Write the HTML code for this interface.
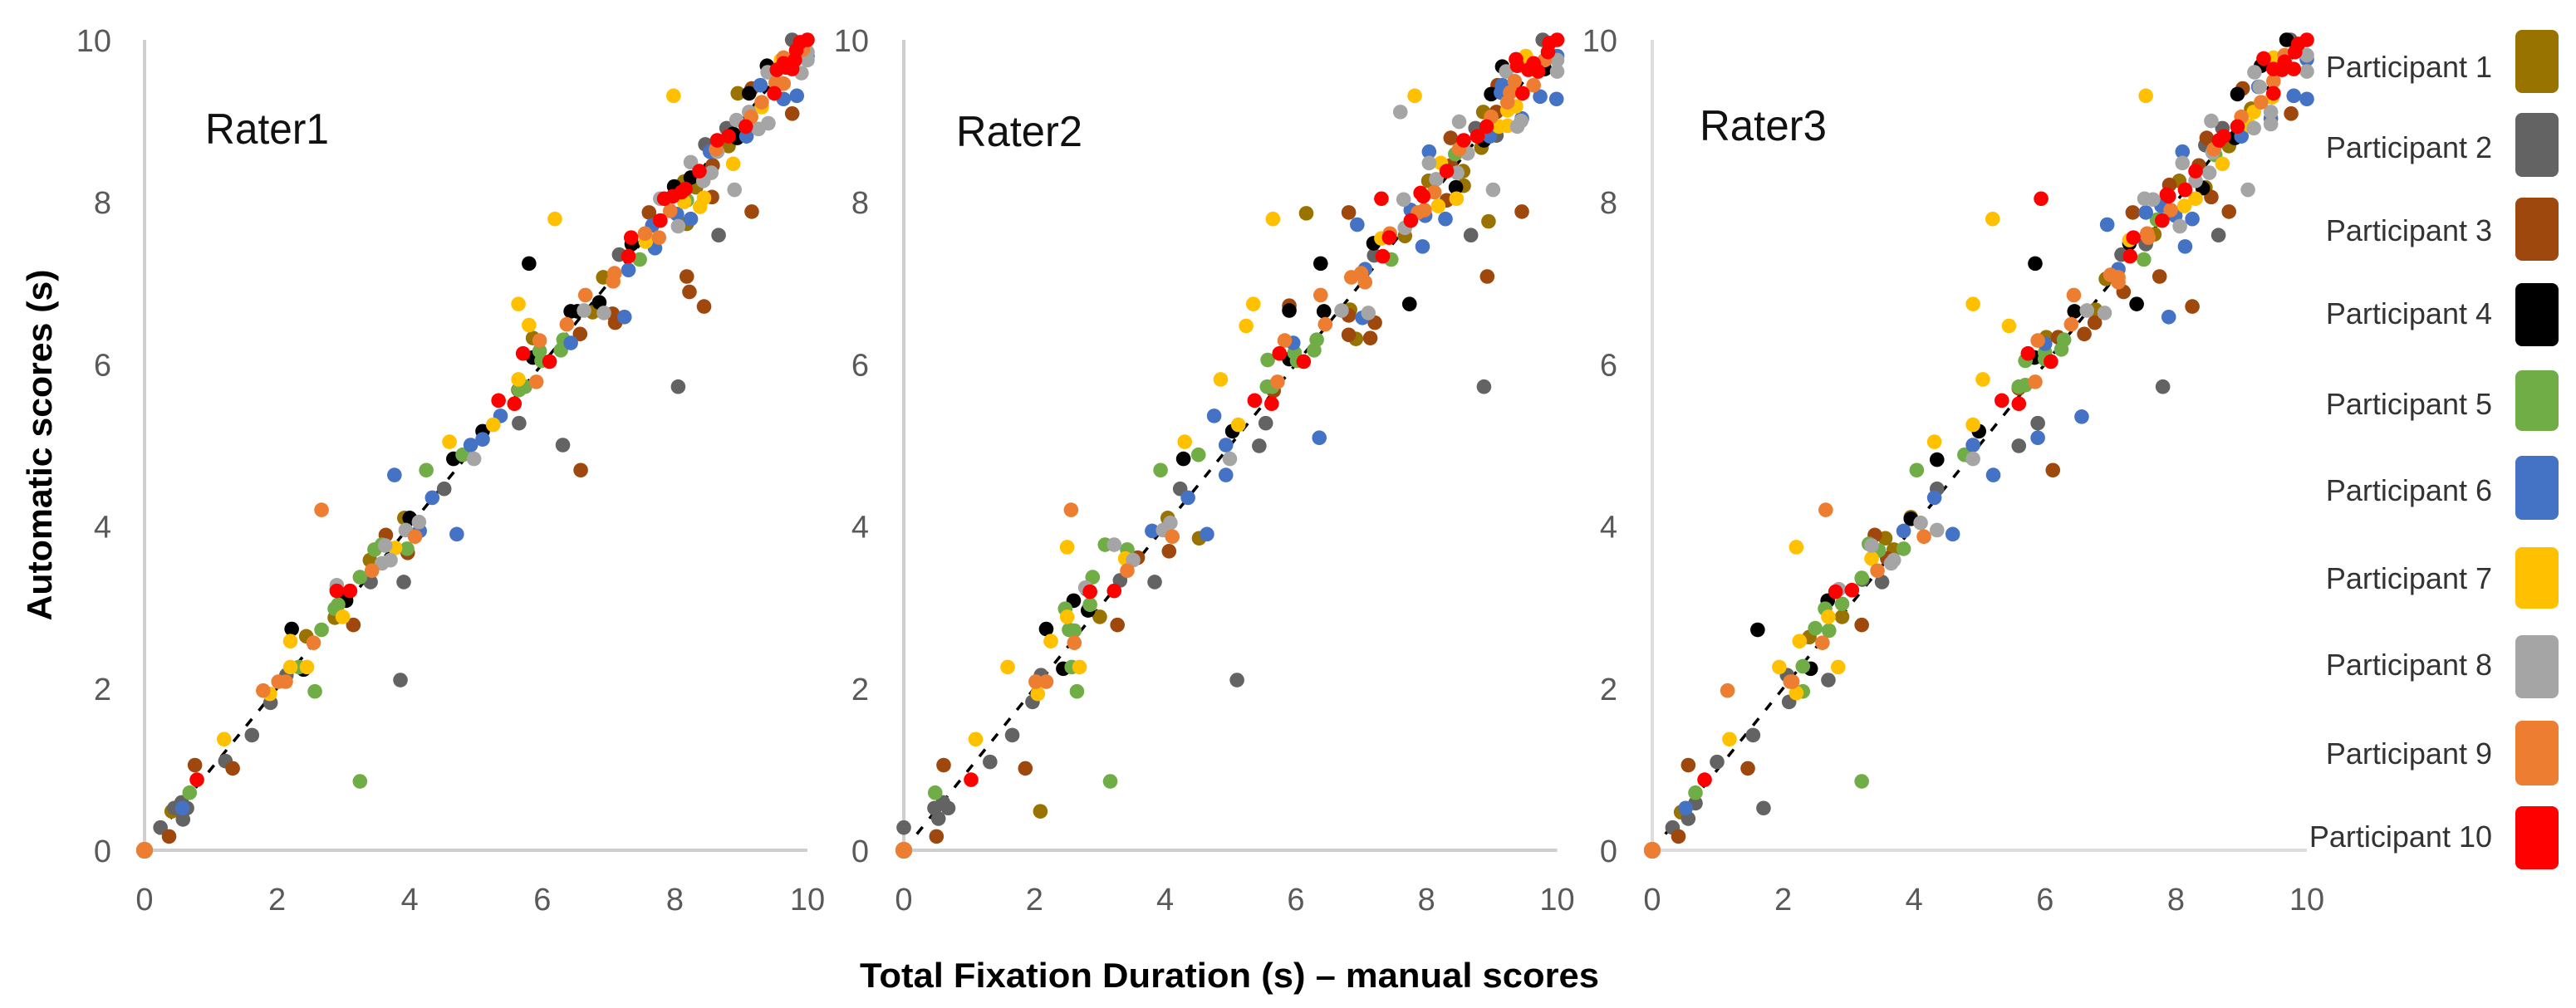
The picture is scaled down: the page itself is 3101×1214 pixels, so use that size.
<!DOCTYPE html>
<html lang="en">
<head>
<meta charset="utf-8">
<title>Automatic vs manual total fixation duration</title>
<style>
html,body{margin:0;padding:0;background:#fff;width:3101px;height:1214px;overflow:hidden}
svg{display:block}
text{font-family:"Liberation Sans",sans-serif}
</style>
</head>
<body>
<svg id="chart" xmlns="http://www.w3.org/2000/svg" width="3101" height="1214" viewBox="0 0 3101 1214">
  <g id="panels"></g>
  <text transform="translate(62,536) rotate(-90)" text-anchor="middle" font-size="42" font-weight="bold" fill="#000" textLength="423" lengthAdjust="spacingAndGlyphs">Automatic scores (s)</text>
  <text x="1480" y="1189" text-anchor="middle" font-size="42" font-weight="bold" fill="#000" textLength="890" lengthAdjust="spacingAndGlyphs">Total Fixation Duration (s) – manual scores</text>
  <text x="247" y="173" font-size="52" fill="#111" textLength="149" lengthAdjust="spacingAndGlyphs">Rater1</text>
  <text x="1151" y="176" font-size="52" fill="#111" textLength="152" lengthAdjust="spacingAndGlyphs">Rater2</text>
  <text x="2046" y="169" font-size="52" fill="#111" textLength="153" lengthAdjust="spacingAndGlyphs">Rater3</text>
  <g font-size="36" fill="#333" text-anchor="end">
    <text x="3000" y="93">Participant 1</text>
    <rect x="3028" y="36" width="52" height="76" rx="8" fill="#997300"/>
    <text x="3000" y="190">Participant 2</text>
    <rect x="3028" y="136" width="52" height="77" rx="8" fill="#636363"/>
    <text x="3000" y="290">Participant 3</text>
    <rect x="3028" y="238" width="52" height="76" rx="8" fill="#9E480E"/>
    <text x="3000" y="390">Participant 4</text>
    <rect x="3028" y="341" width="52" height="76" rx="8" fill="#000000"/>
    <text x="3000" y="499">Participant 5</text>
    <rect x="3028" y="446" width="52" height="73" rx="8" fill="#70AD47"/>
    <text x="3000" y="603">Participant 6</text>
    <rect x="3028" y="549" width="52" height="77" rx="8" fill="#4472C4"/>
    <text x="3000" y="709">Participant 7</text>
    <rect x="3028" y="659" width="52" height="74" rx="8" fill="#FFC000"/>
    <text x="3000" y="813">Participant 8</text>
    <rect x="3028" y="765" width="52" height="76" rx="8" fill="#A5A5A5"/>
    <text x="3000" y="920">Participant 9</text>
    <rect x="3028" y="868" width="52" height="78" rx="8" fill="#ED7D31"/>
    <text x="3000" y="1020">Participant 10</text>
    <rect x="3028" y="971" width="52" height="76" rx="8" fill="#FF0000"/>
  </g>
</svg>
<script>
const tickValues = [0, 2, 4, 6, 8, 10];
const trendLine = [[0.2, 0.2], [10, 10]];

const rater1Series = [
 [[0,0],[.41,.48],[2.44,2.64],[2.87,2.87],[3.40,3.58],[3.92,4.10],[5.86,6.32],[6.76,6.64],[6.92,7.07],[8.14,8.25],[8.18,7.73],[8.32,8.18],[8.81,8.69],[8.95,9.34]],
 [[0,0],[.24,.28],[.58,.38],[.45,.52],[.64,.52],[.56,.59],[1.22,1.10],[1.62,1.42],[1.90,1.82],[2.14,2.16],[3.86,2.10],[3.41,3.31],[3.91,3.31],[2.90,3.22],[4.52,4.46],[5.65,5.27],[6.31,5.0],[8.05,5.72],[8.66,7.59],[7.16,7.35],[8.46,8.71],[8.78,8.91],[9.77,10]],
 [[0,0],[.37,.17],[.76,1.05],[1.33,1.01],[3.15,2.78],[3.64,3.89],[3.97,3.67],[5.64,5.68],[6.58,4.69],[6.57,6.37],[7.06,6.62],[7.10,6.51],[7.61,7.87],[8.18,7.08],[8.22,6.89],[8.44,6.71],[8.56,8.06],[8.57,8.45],[9.16,7.88],[9.77,9.09],[9.16,9.4]],
 [[0,0],[2.22,2.73],[3.04,3.08],[4.0,4.10],[4.66,4.83],[5.10,5.17],[2.40,2.23],[5.80,7.24],[5.86,6.08],[6.43,6.65],[6.53,6.65],[6.86,6.76],[7.35,7.48],[7.99,8.19],[8.24,8.30],[8.94,8.79],[8.88,8.84],[9.12,9.34],[9.39,9.68]],
 [[0,0],[.68,.71],[3.25,.85],[2.57,1.96],[2.33,2.26],[2.67,2.72],[3.25,3.37],[2.87,2.98],[2.92,3.03],[3.47,3.71],[3.58,3.77],[3.96,3.72],[4.25,4.69],[4.80,4.88],[5.65,5.68],[5.74,5.72],[5.96,6.16],[5.99,6.04],[6.28,6.17],[6.32,6.30],[7.47,7.29],[8.18,8.02]],
 [[0,0],[.57,.52],[4.71,3.90],[3.77,4.63],[4.34,4.35],[4.15,3.94],[4.92,5.0],[5.10,5.07],[5.37,5.36],[6.43,6.26],[7.24,6.58],[7.30,7.16],[7.70,7.43],[7.66,7.71],[8.03,7.85],[8.24,7.79],[8.53,8.62],[9.08,8.81],[9.64,9.27],[9.84,9.31],[9.29,9.44],[10,9.8]],
 [[0,0],[1.20,1.37],[1.89,1.93],[2.20,2.26],[2.45,2.26],[2.20,2.58],[2.99,2.88],[3.78,3.73],[4.60,5.04],[5.26,5.25],[5.64,5.81],[5.64,6.74],[5.80,6.48],[6.19,7.79],[7.56,7.51],[7.98,9.31],[8.14,8.0],[8.38,7.94],[8.44,8.05],[8.88,8.47],[9.31,9.17],[9.6,9.75]],
 [[0,0],[2.90,3.27],[3.63,3.76],[3.71,3.58],[3.58,3.54],[3.94,3.95],[4.14,4.05],[4.97,4.83],[6.63,6.66],[6.93,6.63],[7.78,8.04],[8.05,7.70],[8.24,8.49],[8.43,8.26],[8.55,8.36],[8.64,8.62],[8.90,8.15],[8.93,9.01],[9.12,9.11],[9.26,8.9],[9.41,8.97],[9.4,9.6],[9.91,9.59],[10,9.75],[10,9.85]],
 [[0,0],[1.79,1.97],[2.02,2.08],[2.13,2.08],[2.55,2.56],[3.43,3.45],[4.08,3.87],[2.67,4.20],[5.91,5.78],[5.96,6.29],[6.37,6.49],[6.65,6.85],[7.09,7.12],[7.07,7.02],[7.55,7.61],[7.76,7.56],[7.93,7.89],[8.62,8.65],[9.15,9.05],[9.31,9.23],[9.52,9.47],[9.64,9.46],[9.64,9.78],[9.93,9.88]],
 [[.79,.87],[2.90,3.20],[3.10,3.20],[5.34,5.55],[5.58,5.51],[5.71,6.13],[6.11,6.03],[7.30,7.33],[7.34,7.56],[7.78,7.77],[7.84,8.04],[7.97,8.07],[8.1,8.12],[8.16,8.16],[8.37,8.38],[8.64,8.76],[8.81,8.81],[9.07,8.93],[9.50,9.34],[9.54,9.63],[9.64,9.71],[9.77,9.64],[9.81,9.75],[9.83,9.87],[9.89,9.97],[10,10],[9.68,9.66]]
];

const rater2Series = [
 [[0,0],[2.09,.48],[3.0,2.88],[4.04,4.10],[4.52,3.85],[6.16,7.86],[6.92,6.31],[6.83,6.67],[7.67,7.58],[8.03,8.26],[8.57,8.2],[8.56,8.38],[8.84,8.67],[8.87,9.11],[8.95,7.76]],
 [[0,0],[0,.28],[.53,.39],[.47,.52],[.68,.52],[.60,.59],[1.32,1.09],[1.66,1.42],[1.97,1.83],[2.10,2.16],[5.10,2.10],[3.31,3.33],[3.84,3.31],[2.80,3.22],[4.23,4.46],[5.44,4.99],[5.54,5.27],[8.88,5.72],[8.68,7.59],[7.2,7.34],[8.75,8.91],[9.07,8.82],[9.78,10]],
 [[0,0],[.50,.17],[.61,1.05],[1.86,1.01],[3.27,2.78],[3.58,3.61],[4.06,3.69],[5.66,5.67],[5.9,6.72],[6.81,7.87],[6.81,6.36],[6.81,6.6],[7.14,6.32],[7.21,6.51],[8.31,8.02],[8.37,8.45],[8.37,8.79],[8.93,7.08],[9.46,7.88],[9.07,9.11],[9.09,9.44]],
 [[0,0],[2.18,2.73],[2.60,3.08],[2.82,2.96],[2.44,2.24],[4.28,4.83],[5.03,5.17],[5.9,6.06],[5.90,6.66],[6.38,7.24],[6.43,6.65],[7.74,6.74],[7.19,7.49],[8.45,8.18],[8.88,8.76],[8.99,9.33],[9.16,9.67],[9.81,9.64]],
 [[0,0],[.48,.71],[3.16,.85],[2.65,1.96],[2.57,2.26],[2.53,2.72],[2.61,2.71],[2.47,2.98],[2.85,3.03],[2.89,3.37],[3.08,3.77],[3.42,3.71],[3.93,4.69],[4.51,4.88],[5.56,5.72],[5.64,5.72],[5.57,6.05],[5.98,6.14],[6.02,6.04],[6.28,6.17],[6.32,6.30],[7.46,7.29],[8.44,8.59]],
 [[0,0],[3.80,3.94],[4.64,3.90],[4.35,4.35],[4.93,5.0],[4.93,4.63],[4.75,5.36],[5.96,6.26],[6.36,5.09],[6.94,7.72],[7.02,6.57],[7.06,7.17],[7.76,7.9],[7.94,7.45],[7.98,7.83],[8.04,8.62],[8.29,7.79],[8.97,8.81],[9.14,9.35],[9.16,9.44],[9.46,9.03],[9.74,9.30],[9.99,9.27],[10,9.8]],
 [[0,0],[1.10,1.37],[1.59,2.26],[2.05,1.93],[2.69,2.26],[2.25,2.58],[2.50,2.88],[2.50,3.74],[3.39,3.60],[4.30,5.04],[5.12,5.25],[4.85,5.81],[5.24,6.47],[5.35,6.74],[5.65,7.79],[7.31,7.55],[7.82,9.31],[8.18,7.95],[8.22,8.48],[8.46,8.04],[9.11,8.93],[9.24,8.94],[9.24,9.13],[9.37,9.18],[9.52,9.80]],
 [[0,0],[2.78,3.24],[3.22,3.77],[3.51,3.58],[3.97,3.95],[4.08,4.04],[4.99,4.83],[6.70,6.66],[7.11,6.63],[7.6,9.11],[7.65,8.03],[7.67,7.68],[8.04,8.48],[8.15,8.28],[8.47,8.36],[8.5,8.99],[8.63,8.6],[9.02,8.15],[9.22,9.61],[9.39,8.93],[9.45,9.0],[10,9.61],[10,9.75]],
 [[0,0],[2.02,2.08],[2.18,2.08],[2.61,2.56],[3.42,3.45],[4.11,3.87],[2.56,4.20],[5.72,5.78],[5.83,6.29],[6.38,6.85],[6.45,6.49],[6.85,7.07],[7.0,7.12],[7.06,7.01],[7.44,7.61],[7.87,7.87],[7.97,7.9],[8.12,8.12],[8.5,8.65],[8.99,9.05],[9.24,9.23],[9.28,9.35],[9.35,9.49],[9.64,9.44],[9.81,9.75]],
 [[1.03,.87],[2.85,3.19],[3.22,3.20],[5.37,5.55],[5.63,5.51],[5.75,6.13],[6.12,6.03],[7.31,8.04],[7.33,7.33],[7.43,7.56],[7.76,7.77],[7.91,8.11],[7.95,8.07],[8.31,8.38],[8.57,8.76],[8.78,8.81],[8.92,8.93],[9.47,9.34],[9.37,9.76],[9.39,9.68],[9.56,9.63],[9.64,9.71],[9.71,9.61],[9.86,9.85],[9.88,9.96],[10,10]]
];

const rater3Series = [
 [[0,0],[.44,.47],[2.40,2.63],[2.90,2.88],[3.56,3.85],[3.69,3.71],[3.95,4.11],[6.02,6.33],[6.77,6.67],[6.93,7.05],[7.67,7.6],[8.05,8.26],[8.45,8.18],[8.81,8.69],[9.15,9.15]],
 [[0,0],[.31,.28],[.55,.39],[.66,.58],[1.70,.52],[.99,1.09],[1.54,1.42],[2.09,1.83],[2.06,2.16],[2.69,2.10],[3.51,3.31],[3.21,3.34],[4.35,4.46],[5.6,4.99],[5.89,5.27],[7.80,5.72],[8.65,7.59],[7.17,7.35],[7.54,7.48],[8.45,8.7],[8.71,8.91],[9.75,10]],
 [[0,0],[.40,.17],[.55,1.05],[1.46,1.01],[3.2,2.78],[3.40,3.89],[3.59,3.6],[5.6,5.7],[6.12,4.69],[6.2,6.33],[6.6,6.37],[6.76,6.51],[7.2,6.89],[7.34,7.87],[7.75,7.08],[7.9,8.21],[8.25,6.71],[8.35,8.45],[8.47,8.79],[8.54,8.06],[8.81,7.88],[9.02,9.40],[9.76,9.09]],
 [[0,0],[1.61,2.72],[2.42,2.24],[2.68,3.08],[4.35,4.82],[3.95,4.09],[4.99,5.17],[5.84,6.08],[5.85,7.24],[6.45,6.65],[7.29,7.49],[7.4,6.74],[8.41,8.17],[8.9,8.79],[8.94,9.33],[9.3,9.68],[9.69,10]],
 [[0,0],[.66,.71],[3.2,.85],[2.30,1.96],[2.30,2.27],[2.49,2.74],[2.70,2.71],[2.64,2.98],[2.90,3.04],[3.2,3.36],[3.31,3.78],[3.46,3.70],[3.84,3.72],[4.04,4.69],[4.77,4.88],[5.6,5.72],[5.7,5.74],[5.7,6.04],[6.0,6.14],[6.0,6.06],[6.25,6.18],[6.29,6.30],[7.51,7.29],[7.71,7.78],[8.6,8.58]],
 [[0,0],[.51,.52],[3.84,3.94],[4.59,3.90],[4.31,4.35],[4.90,5.0],[5.21,4.63],[5.89,5.09],[6.0,6.25],[6.56,5.35],[6.95,7.72],[7.12,7.17],[7.54,7.87],[7.78,7.95],[7.89,6.58],[7.99,7.83],[8.14,7.45],[8.1,8.62],[8.25,7.79],[9.0,8.81],[9.26,9.42],[9.45,9.03],[9.8,9.31],[10,9.27],[10,9.76]],
 [[0,0],[1.18,1.37],[1.94,2.26],[2.84,2.26],[2.20,1.94],[2.25,2.58],[2.69,2.88],[3.35,3.60],[2.20,3.74],[4.31,5.04],[4.90,6.74],[4.90,5.25],[5.05,5.81],[5.2,7.79],[5.45,6.47],[7.29,7.53],[7.54,9.31],[8.13,7.95],[8.3,8.04],[8.71,8.47],[9.13,8.94],[9.19,9.11],[9.47,9.29],[9.49,9.78]],
 [[0,0],[2.85,3.22],[3.35,3.76],[3.65,3.54],[3.69,3.58],[4.10,4.04],[4.35,3.95],[4.9,4.83],[6.64,6.66],[6.91,6.63],[7.52,8.04],[7.65,8.03],[8.06,7.70],[8.1,8.48],[8.3,8.26],[8.51,8.36],[8.54,9.0],[8.56,8.61],[9.1,8.15],[9.19,8.91],[9.2,9.6],[9.28,9.42],[9.45,9.11],[9.45,8.96],[10,9.61],[10,9.81]],
 [[0,0],[1.15,1.97],[2.11,2.08],[2.14,2.08],[2.6,2.56],[3.44,3.45],[4.15,3.87],[2.65,4.20],[5.85,5.78],[5.89,6.29],[6.4,6.49],[6.44,6.85],[7.0,7.1],[7.12,7.07],[7.12,7.01],[7.56,7.61],[7.58,7.56],[7.92,7.9],[8.58,8.65],[9.0,9.05],[9.3,9.23],[9.49,9.49],[9.66,9.81]],
 [[.80,.87],[2.8,3.19],[3.05,3.21],[5.34,5.55],[5.6,5.51],[5.74,6.13],[5.94,8.04],[6.09,6.03],[7.30,7.33],[7.35,7.56],[7.79,7.77],[7.86,8.09],[7.89,8.07],[8.14,8.15],[8.3,8.38],[8.66,8.76],[8.73,8.81],[8.94,8.93],[9.49,9.34],[9.34,9.77],[9.49,9.64],[9.62,9.63],[9.66,9.73],[9.8,9.64],[9.82,9.85],[9.87,9.95],[10,10]]
];

const participantColors = ['#997300','#636363','#9E480E','#000000','#70AD47','#4472C4','#FFC000','#A5A5A5','#ED7D31','#FF0000'];

const SVGNS = 'http://www.w3.org/2000/svg';
const yBottom = 1024;
const yTop = 48;
const panels = [
  { id: 'rater1', series: rater1Series, left: 174, right: 972, labelRight: 134, axis: '#cfcfcf' },
  { id: 'rater2', series: rater2Series, left: 1088, right: 1874.5, labelRight: 1046, axis: '#cfcfcf' },
  { id: 'rater3', series: rater3Series, left: 1989, right: 2777, labelRight: 1947, axis: '#dddddd' }
];

function xScale(panel, v) { return panel.left + (panel.right - panel.left) * v / 10; }
function yScale(v) { return yBottom - (yBottom - yTop) * v / 10; }
function make(tag, attrs, parent) {
  const el = document.createElementNS(SVGNS, tag);
  for (const k in attrs) el.setAttribute(k, attrs[k]);
  parent.appendChild(el);
  return el;
}

const root = document.getElementById('panels');
panels.forEach(function (panel) {
  const g = make('g', {}, root);
  
  

  const yAxis = make('line', { x1: panel.left, x2: panel.left, y1: yScale(10), y2: yScale(0), stroke: panel.axis, 'stroke-width': 4 }, g);
  
  

  const xAxis = make('line', { x1: panel.left, x2: panel.right, y1: yScale(0), y2: yScale(0), stroke: panel.axis, 'stroke-width': 4 }, g);
  
  

  tickValues.forEach(function (t) {
    const yl = make('text', { x: panel.labelRight, y: yScale(t) + 14, 'text-anchor': 'end', 'font-size': 38, fill: '#595959' }, g);
    yl.textContent = String(t);
    
    

    const xl = make('text', { x: xScale(panel, t), y: 1096, 'text-anchor': 'middle', 'font-size': 38, fill: '#595959' }, g);
    xl.textContent = String(t);
    
    
  });

  const trend = make('line', {
    x1: xScale(panel, trendLine[0][0]), y1: yScale(trendLine[0][1]),
    x2: xScale(panel, trendLine[1][0]), y2: yScale(trendLine[1][1]),
    stroke: '#000', 'stroke-width': 3.5, 'stroke-dasharray': '11 13'
  }, g);
  
  

  panel.series.forEach(function (points, i) {
    const sg = make('g', { fill: participantColors[i] }, g);
    
    
    points.forEach(function (p) {
      const c = make('circle', { cx: xScale(panel, p[0]), cy: yScale(p[1]), r: p[0] === 0 && p[1] === 0 ? 10 : 8.8 }, sg);
      
      
    });
  });
});
</script>
</body>
</html>
